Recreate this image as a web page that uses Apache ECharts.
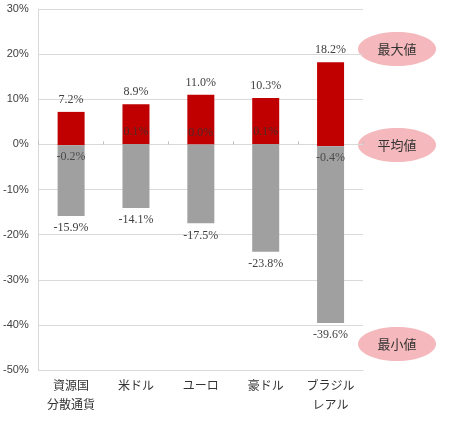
<!DOCTYPE html>
<html>
<head>
<meta charset="utf-8">
<script src="https://cdn.jsdelivr.net/npm/echarts@6/dist/echarts.min.js"></script>
<style>
  html, body { margin: 0; padding: 0; background: #fff; }
  #chart { width: 450px; height: 424px; }
</style>
</head>
<body>
<div id="chart"></div>
<script>
// 通貨ごとの騰落率（%）
const categories = ['資源国\n分散通貨', '米ドル', 'ユーロ', '豪ドル', 'ブラジル\nレアル'];
const maxValues = [7.2, 8.9, 11.0, 10.3, 18.2];
const avgValues = [-0.2, 0.1, 0.0, 0.1, -0.4];
const minValues = [-15.9, -14.1, -17.5, -23.8, -39.6];
const yMin = -50, yMax = 30, yStep = 10;
const noteLabels = ['最大値', '平均値', '最小値'];

const chart = echarts.init(document.getElementById('chart'));

const serif = "'Liberation Serif', 'Noto Sans CJK JP', serif";
const textColor = '#404040';

// 平均値を起点に、上下それぞれ積み上げる
const upParts = maxValues.map((v, i) => +(v - avgValues[i]).toFixed(2));
const downParts = minValues.map((v, i) => +(v - avgValues[i]).toFixed(2));

function note(text, cy) {
  return {
    type: 'group',
    children: [{
      type: 'ellipse',
      shape: { cx: 397, cy: cy, rx: 39, ry: 17 },
      style: { fill: '#f5b8bc' }
    }, {
      type: 'text',
      x: 397,
      y: cy,
      style: {
        text: text,
        fill: '#333',
        font: "13px 'Noto Sans CJK JP'",
        align: 'center',
        verticalAlign: 'middle'
      }
    }]
  };
}

const option = {
  animation: false,
  grid: { left: 38, right: 87, top: 9, bottom: 54 },
  xAxis: [{
    type: 'category',
    data: categories,
    axisLine: { onZero: false, lineStyle: { color: '#d9d9d9' } },
    axisTick: { show: false },
    axisLabel: {
      color: '#333',
      fontSize: 12,
      lineHeight: 19,
      margin: 6,
      fontFamily: "'Noto Sans CJK JP'"
    }
  }, {
    type: 'category',
    data: categories,
    position: 'bottom',
    axisLine: { onZero: true, lineStyle: { color: '#d9d9d9' } },
    axisTick: { show: true, inside: true, length: 3, lineStyle: { color: '#bfbfbf' } },
    axisLabel: { show: false }
  }],
  yAxis: {
    type: 'value',
    min: yMin,
    max: yMax,
    interval: yStep,
    axisLine: { show: true, lineStyle: { color: '#d9d9d9' } },
    axisTick: { show: false },
    splitLine: { lineStyle: { color: '#d9d9d9' } },
    axisLabel: {
      formatter: '{value}%',
      color: '#404040',
      fontSize: 11,
      margin: 10,
      fontFamily: "'Liberation Sans Narrow', 'Liberation Sans', sans-serif"
    }
  },
  series: [{
    name: 'baseUp',
    type: 'bar',
    stack: 'up',
    stackStrategy: 'all',
    barWidth: 27,
    data: avgValues,
    itemStyle: { color: 'transparent' },
    silent: true
  }, {
    name: '最大値',
    type: 'bar',
    stack: 'up',
    stackStrategy: 'all',
    barWidth: 27,
    data: upParts,
    itemStyle: { color: '#c00000' },
    label: {
      show: true,
      position: 'top',
      distance: 6,
      color: textColor,
      fontSize: 12,
      fontFamily: serif,
      formatter: p => maxValues[p.dataIndex].toFixed(1) + '%'
    }
  }, {
    name: 'baseDown',
    type: 'bar',
    stack: 'down',
    stackStrategy: 'all',
    barWidth: 27,
    barGap: '-100%',
    data: avgValues,
    itemStyle: { color: 'transparent' },
    silent: true
  }, {
    name: '最小値',
    type: 'bar',
    stack: 'down',
    stackStrategy: 'all',
    barWidth: 27,
    barGap: '-100%',
    data: downParts,
    itemStyle: { color: '#a0a0a0' },
    label: {
      show: true,
      position: 'bottom',
      distance: 6,
      color: textColor,
      fontSize: 12,
      fontFamily: serif,
      formatter: p => minValues[p.dataIndex].toFixed(1) + '%'
    }
  }, {
    name: '平均値',
    type: 'scatter',
    symbolSize: 0,
    z: 5,
    data: avgValues.map(v => ({
      value: v,
      label: { position: v < 0 ? 'bottom' : 'top' }
    })),
    label: {
      show: true,
      distance: 6,
      color: '#333',
      fontSize: 12,
      fontFamily: serif,
      formatter: p => avgValues[p.dataIndex].toFixed(1) + '%'
    }
  }],
  graphic: [
    note(noteLabels[0], 49),
    note(noteLabels[1], 145),
    note(noteLabels[2], 344)
  ]
};

chart.setOption(option);
</script>
</body>
</html>
